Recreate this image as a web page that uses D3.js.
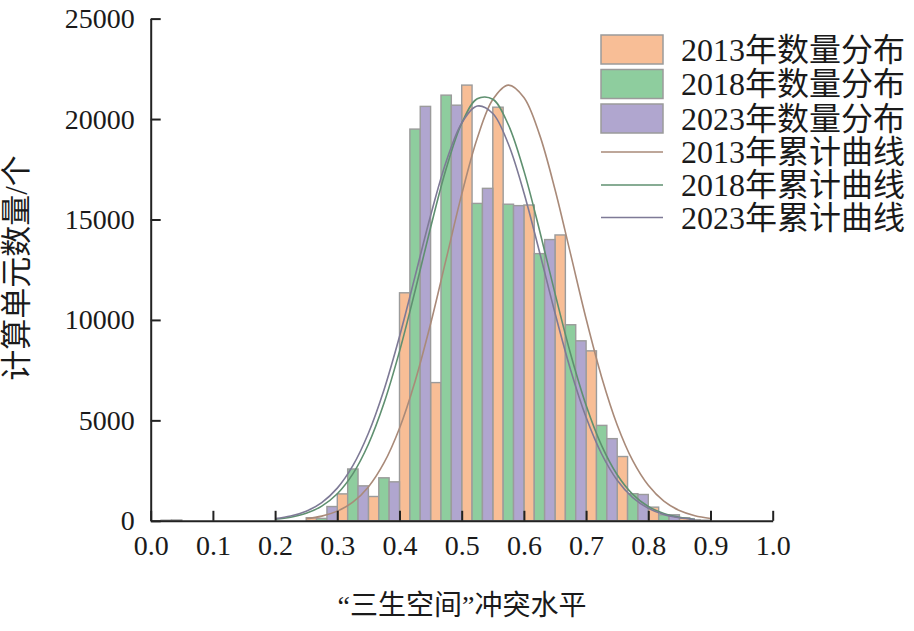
<!DOCTYPE html>
<html><head><meta charset="utf-8">
<script src="https://cdn.jsdelivr.net/npm/d3@7"></script>
<style>
body{margin:0;background:#fff;}
text{font-family:"Liberation Serif","Noto Sans CJK SC",serif;fill:#1a1a1a;}
</style></head>
<body><svg id="c" width="914" height="631"></svg>
<script>
// ---- data ----
const binStarts = [0.00,0.05,0.10,0.15,0.20,0.25,0.30,0.35,0.40,0.45,0.50,0.55,0.60,0.65,0.70,0.75,0.80,0.85];
const counts2013 = [0,0,0,0,0,150,1340,1210,11350,6880,21690,20590,15720,14230,8460,3200,680,150];
const counts2018 = [30,0,0,0,0,120,2580,2140,19500,21190,15800,15760,13300,9760,4750,1350,300,50];
const counts2023 = [40,0,0,0,0,710,1740,1940,20630,20690,16550,15690,14000,8960,4090,1310,300,30];

const curveX2013 = [0.250,0.275,0.300,0.325,0.350,0.375,0.400,0.425,0.450,0.475,0.500,0.525,0.550,0.575,0.600,0.625,0.650,0.675,0.700,0.725,0.750,0.775,0.800,0.825,0.850,0.875,0.900];
const curveY2013 = [107,234,481,930,1687,2878,4609,6937,9806,13025,16250,19046,20970,21689,21074,19237,16495,13287,10056,7149,4772,2993,1766,977,508,248,114];
const curveX2018 = [0.200,0.225,0.250,0.275,0.300,0.325,0.350,0.375,0.400,0.425,0.450,0.475,0.500,0.525,0.550,0.575,0.600,0.625,0.650,0.675,0.700,0.725,0.750,0.775,0.800,0.825,0.850,0.875];
const curveY2018 = [81,179,373,732,1348,2338,3813,5849,8434,11441,14600,17525,19787,21010,20985,19715,17419,14476,11321,8320,5755,3743,2292,1318,713,363,174,78];
const curveX2023 = [0.200,0.225,0.250,0.275,0.300,0.325,0.350,0.375,0.400,0.425,0.450,0.475,0.500,0.525,0.550,0.575,0.600,0.625,0.650,0.675,0.700,0.725,0.750,0.775,0.800,0.825,0.850,0.875];
const curveY2023 = [110,237,478,908,1627,2743,4357,6511,9173,12168,15197,17873,19796,20645,20277,18754,16333,13396,10347,7524,5153,3326,2019,1155,622,316,151,68];

const xTicks = [0,0.1,0.2,0.3,0.4,0.5,0.6,0.7,0.8,0.9,1.0];
const yTicks = [0,5000,10000,15000,20000,25000];
const legendLabels = ["2013年数量分布","2018年数量分布","2023年数量分布","2013年累计曲线","2018年累计曲线","2023年累计曲线"];
const barColors = ["#F8BE96","#8ECD9E","#B0A6CF"];
const lineColors = ["#A98A79","#5F9070","#7E7A96"];
const binWidth = 0.05;

// ---- chart ----
const svg = d3.select("#c");
const x = d3.scaleLinear().domain([0,1]).range([150.7,772.7]);
const y = d3.scaleLinear().domain([0,25000]).range([520.8,18.6]);

const series = [counts2013,counts2018,counts2023];
const sub = binWidth/3;
const bw = x(sub)-x(0);
series.forEach((arr,si)=>{
  const data = arr.map((v,i)=>({b:binStarts[i],v})).filter(d=>d.v>0);
  svg.append("g").selectAll("rect").data(data)
   .join("rect")
   .attr("x",d=>x(d.b+si*sub))
   .attr("width",bw)
   .attr("y",d=>y(d.v))
   .attr("height",d=>y(0)-y(d.v))
   .attr("fill",barColors[si])
   .attr("stroke","#9b9b9b")
   .attr("stroke-width",1.4);
});

const curves = [[curveX2013,curveY2013],[curveX2018,curveY2018],[curveX2023,curveY2023]];
const line = d3.line().x(d=>x(d[0])).y(d=>y(d[1])).curve(d3.curveCatmullRom);
curves.forEach((c,i)=>{
  svg.append("path").datum(c[0].map((v,j)=>[v,c[1][j]]))
    .attr("d",line).attr("fill","none").attr("stroke",lineColors[i]).attr("stroke-width",1.6);
});

// axes
const xAxis = d3.axisBottom(x).tickValues(xTicks).tickFormat(d3.format(".1f")).tickSizeInner(-10).tickSizeOuter(0).tickPadding(14);
const gx = svg.append("g").attr("transform",`translate(0,${y(0)})`).call(xAxis);
gx.select(".domain").attr("stroke","#222").attr("stroke-width",2);
gx.selectAll(".tick line").attr("stroke","#222").attr("stroke-width",2);
gx.selectAll("text").attr("font-size",28).attr("fill","#1a1a1a").attr("font-family","Liberation Serif");

const yAxis = d3.axisLeft(y).tickValues(yTicks).tickFormat(d3.format("d")).tickSizeInner(-10).tickSizeOuter(0).tickPadding(14);
const gy = svg.append("g").attr("transform",`translate(${x(0)},0)`).call(yAxis);
gy.select(".domain").attr("stroke","#222").attr("stroke-width",2);
gy.selectAll(".tick line").attr("stroke","#222").attr("stroke-width",2);
gy.selectAll("text").attr("font-size",28).attr("fill","#1a1a1a").attr("font-family","Liberation Serif").attr("dx",-2);

// axis titles
svg.append("text").attr("x",462).attr("y",615).attr("text-anchor","middle").attr("font-size",28).text("“三生空间”冲突水平");
svg.append("text").attr("transform","translate(27,268) rotate(-90)").attr("text-anchor","middle").attr("font-size",31).text("计算单元数量/个");

// legend
const lg = svg.append("g");
const swY = [35,69.5,104];
const lnY = [152,185,217.5];
legendLabels.forEach((t,i)=>{
  let cy;
  if(i<3){
    cy = swY[i]+14.5;
    lg.append("rect").attr("x",601).attr("y",swY[i]).attr("width",62).attr("height",29)
      .attr("fill",barColors[i]).attr("stroke","#9b9b9b").attr("stroke-width",1.5);
  } else {
    cy = lnY[i-3];
    lg.append("line").attr("x1",601).attr("x2",663).attr("y1",cy).attr("y2",cy)
      .attr("stroke",lineColors[i-3]).attr("stroke-width",1.6);
  }
  lg.append("text").attr("x",681).attr("y",cy+11).attr("font-size",32).text(t);
});
</script></body></html>
